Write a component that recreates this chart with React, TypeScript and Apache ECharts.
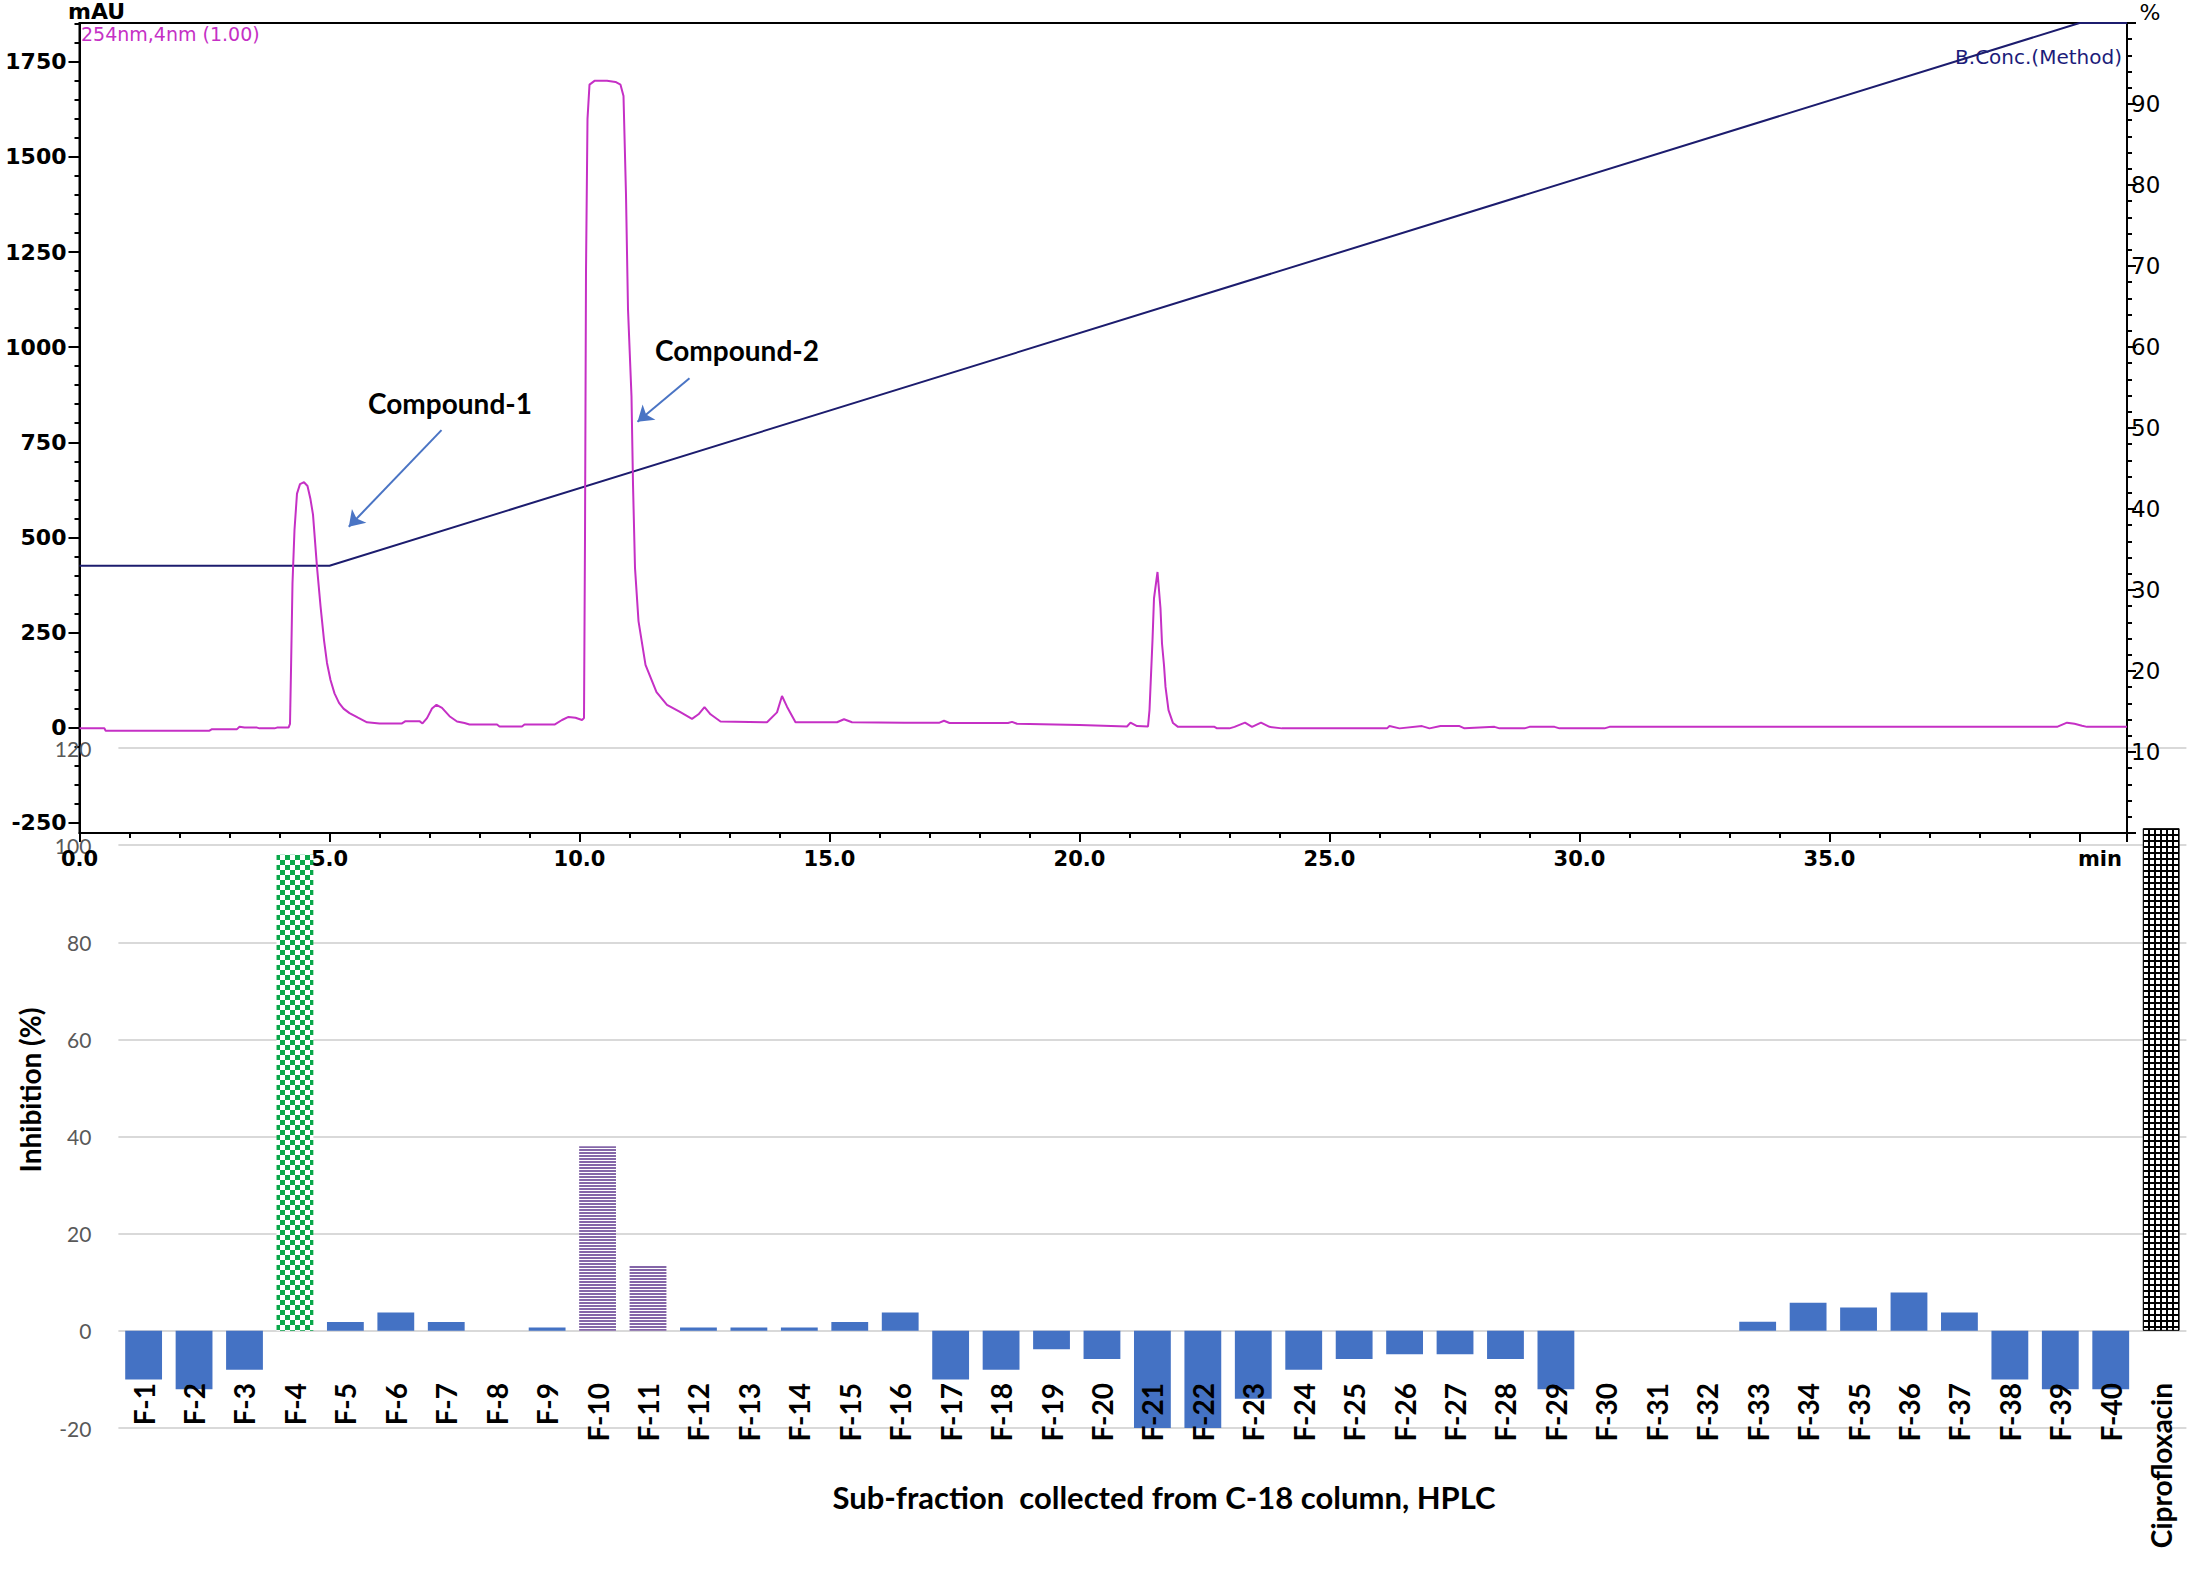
import React, { useEffect, useRef } from 'react';
import * as echarts from 'echarts';

// ---------- HPLC chromatogram (254 nm) ----------
const timeMin = [
  0.0, 0.5, 0.52, 2.6, 2.65, 3.15, 3.2, 3.3, 3.55, 3.6, 3.9, 3.95, 4.18, 4.21, 4.23, 4.26, 4.3, 4.35, 4.41, 4.49,
  4.56, 4.62, 4.67, 4.75, 4.82, 4.89, 4.95, 5.02, 5.1, 5.19, 5.28, 5.4, 5.57, 5.75, 6.0, 6.45, 6.52, 6.8, 6.86, 6.95,
  7.05, 7.14, 7.25, 7.4, 7.55, 7.7, 7.8, 8.35, 8.4, 8.85, 8.9, 9.5, 9.65, 9.78, 9.92, 10.05, 10.09, 10.11, 10.13, 10.16,
  10.2, 10.3, 10.55, 10.72, 10.82, 10.88, 10.93, 10.97, 11.04, 11.07, 11.11, 11.18, 11.32, 11.54, 11.75, 12.0, 12.25, 12.38, 12.5, 12.62,
  12.82, 13.75, 13.95, 14.05, 14.15, 14.32, 15.15, 15.29, 15.45, 16.5, 17.2, 17.29, 17.4, 18.57, 18.65, 18.75, 20.0, 20.95, 21.02, 21.15,
  21.37, 21.4, 21.46, 21.49, 21.56, 21.62, 21.65, 21.69, 21.72, 21.78, 21.87, 21.97, 22.7, 22.75, 23.0, 23.1, 23.31, 23.45, 23.63, 23.8,
  24.05, 26.15, 26.2, 26.4, 26.85, 27.0, 27.22, 27.6, 27.7, 28.3, 28.4, 28.9, 29.0, 29.5, 29.6, 30.5, 30.6, 39.55, 39.75, 39.9,
  40.05, 40.15, 40.95,
];
const absMAU = [
  -2, -2, -8, -8, -4, -4, 2, 0, 0, -2, -2, 0, 0, 10, 150, 380, 520, 615, 640, 645,
  635, 600, 560, 422, 320, 230, 170, 125, 90, 65, 50, 38, 26, 14, 11, 11, 17, 17, 11, 25,
  50, 60, 52, 30, 16, 12, 8, 8, 3, 3, 8, 8, 20, 28, 26, 20, 25, 500, 1200, 1600,
  1690, 1700, 1700, 1697, 1690, 1660, 1400, 1100, 870, 640, 420, 280, 165, 93, 60, 42, 23, 35, 54, 35,
  16, 14, 40, 83, 55, 14, 14, 22, 14, 13, 13, 18, 12, 12, 15, 10, 7, 3, 13, 4,
  3, 46, 230, 340, 409, 313, 221, 164, 107, 46, 12, 2, 2, -2, -2, 2, 13, 2, 13, 2,
  -2, -2, 4, -2, 4, -2, 4, 4, -2, 2, -2, -2, 2, 2, -2, -2, 2, 2, 13, 10,
  5, 2, 2,
];

// ---------- Gradient programme (B.Conc, %) ----------
const gradientTime = [0, 5, 40, 40.95];
const gradientPct = [33, 33, 100, 100];

// ---------- Axis ticks ----------
const mAUMajor = [-250, 0, 250, 500, 750, 1000, 1250, 1500, 1750];
const mAUMinor = [
  -250, -200, -150, -100, -50, 0, 50, 100, 150, 200, 250, 300, 350, 400, 450, 500, 550, 600, 650, 700, 750,
  800, 850, 900, 950, 1000, 1050, 1100, 1150, 1200, 1250, 1300, 1350, 1400, 1450, 1500, 1550, 1600, 1650,
  1700, 1750, 1800, 1850,
];

// ---------- Bioassay of sub-fractions ----------
const fractions = [
  'F-1', 'F-2', 'F-3', 'F-4', 'F-5', 'F-6', 'F-7', 'F-8', 'F-9', 'F-10',
  'F-11', 'F-12', 'F-13', 'F-14', 'F-15', 'F-16', 'F-17', 'F-18', 'F-19', 'F-20',
  'F-21', 'F-22', 'F-23', 'F-24', 'F-25', 'F-26', 'F-27', 'F-28', 'F-29', 'F-30',
  'F-31', 'F-32', 'F-33', 'F-34', 'F-35', 'F-36', 'F-37', 'F-38', 'F-39', 'F-40',
  'Ciprofloxacin',
];
const inhibition = [
  -10, -12, -8, 98, 1.8, 3.8, 1.8, 0, 0.7, 38,
  13.5, 0.7, 0.7, 0.7, 1.8, 3.8, -10, -8, -3.8, -5.8,
  -20, -20, -14, -8, -5.8, -4.8, -4.8, -5.8, -12, 0,
  0, 0, 1.9, 5.8, 4.8, 7.9, 3.8, -10, -12, -12,
  103.5,
];
const checkerFractions = ['F-4'];
const stripeFractions = ['F-10', 'F-11'];
const gridFractions = ['Ciprofloxacin'];

function makeCanvas(w: number, h: number, draw: (ctx: CanvasRenderingContext2D) => void) {
  const c = document.createElement('canvas');
  c.width = w;
  c.height = h;
  const ctx = c.getContext('2d') as CanvasRenderingContext2D;
  draw(ctx);
  return c;
}

export default function App() {
  const ref = useRef<HTMLDivElement>(null);

  useEffect(() => {
    document.body.style.margin = '0';
    if (!ref.current) return;
    const chart = echarts.init(ref.current, undefined, { renderer: 'svg' });

    const checker = makeCanvas(10, 10, (ctx) => {
      ctx.fillStyle = '#ffffff';
      ctx.fillRect(0, 0, 10, 10);
      ctx.fillStyle = '#0aa84a';
      ctx.fillRect(0, 0, 5, 5);
      ctx.fillRect(5, 5, 5, 5);
    });
    const stripes = makeCanvas(4, 3, (ctx) => {
      ctx.fillStyle = '#ffffff';
      ctx.fillRect(0, 0, 4, 3);
      ctx.fillStyle = '#8466a8';
      ctx.fillRect(0, 0, 4, 2);
    });
    const gridPat = makeCanvas(6, 6, (ctx) => {
      ctx.fillStyle = '#000000';
      ctx.fillRect(0, 0, 6, 6);
      ctx.fillStyle = '#ffffff';
      ctx.fillRect(2, 2, 4, 4);
    });

    const barData = fractions.map((f, i) => {
      let itemStyle: any = undefined;
      if (checkerFractions.includes(f)) itemStyle = { color: { image: checker, repeat: 'repeat' } };
      else if (stripeFractions.includes(f)) itemStyle = { color: { image: stripes, repeat: 'repeat' } };
      else if (gridFractions.includes(f))
        itemStyle = { color: { image: gridPat, repeat: 'repeat' }, borderColor: '#000', borderWidth: 1 };
      return itemStyle ? { value: inhibition[i], itemStyle } : inhibition[i];
    });

    const chromData = timeMin.map((t, i) => [t, absMAU[i]]);
    const gradData = gradientTime.map((t, i) => [t, gradientPct[i]]);

    const topFont = 'DejaVu Sans';
    const option: any = {
      animation: false,
      backgroundColor: '#ffffff',
      grid: [
        {
          left: 79.5, top: 23, width: 2047.5, height: 810, show: true, borderColor: '#000', borderWidth: 2,
          backgroundColor: 'transparent', containLabel: false, outerBoundsMode: 'none',
        },
        { left: 118.4, top: 748, width: 2068, height: 680, show: false, containLabel: false, outerBoundsMode: 'none' },
      ],
      xAxis: [
        {
          type: 'value', gridIndex: 0, min: 0, max: 40.95, interval: 5,
          axisLine: { show: true, onZero: false, lineStyle: { color: '#000', width: 2 } },
          axisTick: { show: true, length: 9, lineStyle: { color: '#000', width: 2 } },
          minorTick: { show: true, splitNumber: 5, length: 5, lineStyle: { color: '#000', width: 2 } },
          splitLine: { show: false },
          axisLabel: {
            margin: 15, color: '#000', fontFamily: topFont, fontWeight: 'bold', fontSize: 21,
            formatter: (v: number) => (v >= 40 ? '' : v.toFixed(1)),
          },
        },
        {
          type: 'category', gridIndex: 1, data: fractions, z: 10,
          axisLine: { show: false, onZero: false },
          axisTick: { show: false },
          splitLine: { show: false },
          axisLabel: {
            interval: 0, rotate: 90, margin: -45, color: '#000', fontFamily: 'Lato', fontWeight: 'bold', fontSize: 28,
          },
        },
      ],
      yAxis: [
        {
          type: 'value', gridIndex: 0, position: 'left', min: -277, max: 1852,
          axisLine: { show: true, onZero: false, lineStyle: { color: '#000', width: 2 } },
          axisTick: { show: true, customValues: mAUMajor, length: 11, lineStyle: { color: '#000', width: 2 } },
          splitLine: { show: false },
          axisLabel: {
            customValues: mAUMajor, margin: 13, color: '#000', fontFamily: topFont, fontWeight: 'bold', fontSize: 22,
            formatter: (v: number) => String(v),
          },
        },
        {
          type: 'value', gridIndex: 0, position: 'right', min: 0, max: 100, interval: 10,
          axisLine: { show: true, onZero: false, lineStyle: { color: '#000', width: 2 } },
          axisTick: { show: true, length: 9, lineStyle: { color: '#000', width: 2 } },
          minorTick: { show: true, splitNumber: 5, length: 5, lineStyle: { color: '#000', width: 2 } },
          splitLine: { show: false },
          axisLabel: {
            margin: 4, color: '#000', fontFamily: topFont, fontSize: 23,
            formatter: (v: number) => (v === 0 || v === 100 ? '' : String(v)),
          },
        },
        {
          type: 'value', gridIndex: 0, position: 'left', min: -277, max: 1852,
          axisLine: { show: false, onZero: false },
          axisTick: { show: true, customValues: mAUMinor, length: 5, lineStyle: { color: '#000', width: 2 } },
          splitLine: { show: false },
          axisLabel: { show: false },
        },
        {
          type: 'value', gridIndex: 1, min: -20, max: 120, interval: 20,
          axisLine: { show: false, onZero: false },
          axisTick: { show: false },
          splitLine: { show: true, lineStyle: { color: '#d9d9d9', width: 2 } },
          axisLabel: { margin: 27, color: '#595959', fontFamily: 'Lato', fontSize: 21 },
        },
      ],
      series: [
        {
          name: 'B.Conc.(Method)', type: 'line', xAxisIndex: 0, yAxisIndex: 1, data: gradData,
          showSymbol: false, symbol: 'none', silent: true,
          lineStyle: { color: '#1c1c6e', width: 2 },
        },
        {
          name: '254nm,4nm (1.00)', type: 'line', xAxisIndex: 0, yAxisIndex: 0, data: chromData,
          showSymbol: false, symbol: 'none', silent: true,
          lineStyle: { color: '#c530c5', width: 2 },
          markLine: {
            silent: true, symbol: ['none', 'arrow'], symbolSize: 15, precision: 3,
            lineStyle: { color: '#4a74c4', width: 2, type: 'solid' },
            label: { show: false },
            emphasis: { disabled: true },
            data: [
              [{ coord: [7.24, 782] }, { coord: [5.386, 528] }],
              [{ coord: [12.2, 918] }, { coord: [11.16, 804] }],
            ],
          },
          markPoint: {
            silent: true, symbol: 'circle', symbolSize: 1,
            itemStyle: { color: 'rgba(0,0,0,0)' },
            label: {
              show: true, position: 'inside', formatter: '{b}', color: '#000',
              fontFamily: 'Lato', fontWeight: 'bold', fontSize: 28,
            },
            data: [
              { name: 'Compound-1', coord: [7.41, 853] },
              { name: 'Compound-2', coord: [13.15, 992] },
            ],
          },
        },
        {
          name: 'Inhibition (%)', type: 'bar', xAxisIndex: 1, yAxisIndex: 3, data: barData,
          barCategoryGap: '27%', silent: true,
          itemStyle: { color: '#4472c4' },
        },
      ],
      graphic: [
        { type: 'text', x: 68, y: 11, style: { text: 'mAU', font: `bold 22px "${topFont}"`, fill: '#000', align: 'left', verticalAlign: 'middle', textAlign: 'left', textVerticalAlign: 'middle' } },
        { type: 'text', x: 81, y: 34, style: { text: '254nm,4nm (1.00)', font: `19px "${topFont}"`, fill: '#c530c5', align: 'left', verticalAlign: 'middle', textAlign: 'left', textVerticalAlign: 'middle' } },
        { type: 'text', x: 2150, y: 12, style: { text: '%', font: `22px "${topFont}"`, fill: '#000', align: 'center', verticalAlign: 'middle', textAlign: 'center', textVerticalAlign: 'middle' } },
        { type: 'text', x: 2122, y: 57, style: { text: 'B.Conc.(Method)', font: `20px "${topFont}"`, fill: '#1c1c7a', align: 'right', verticalAlign: 'middle', textAlign: 'right', textVerticalAlign: 'middle' } },
        { type: 'text', x: 2100, y: 859, style: { text: 'min', font: `bold 21px "${topFont}"`, fill: '#000', align: 'center', verticalAlign: 'middle', textAlign: 'center', textVerticalAlign: 'middle' } },
        { type: 'text', x: 30, y: 1090, rotation: Math.PI / 2, style: { text: 'Inhibition (%)', font: 'bold 28px "Lato"', fill: '#000', align: 'center', verticalAlign: 'middle', textAlign: 'center', textVerticalAlign: 'middle' } },
        { type: 'text', x: 1164, y: 1497, style: { text: 'Sub-fraction  collected from C-18 column, HPLC', font: 'bold 31px "Lato"', fill: '#000', align: 'center', verticalAlign: 'middle', textAlign: 'center', textVerticalAlign: 'middle' } },
      ],
    };

    chart.setOption(option);
    return () => {
      chart.dispose();
    };
  }, []);

  return <div ref={ref} style={{ width: 2200, height: 1578 }} />;
}
